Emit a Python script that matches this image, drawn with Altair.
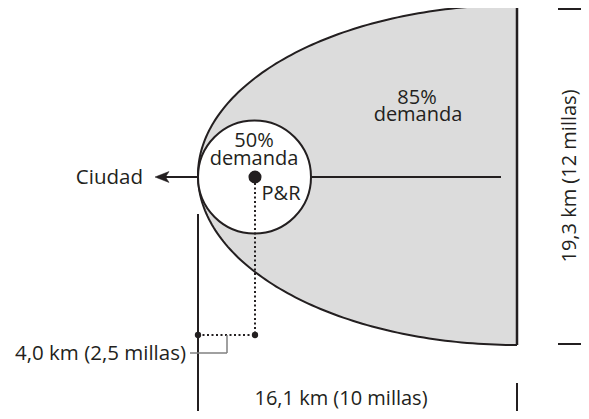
import altair as alt
import pandas as pd
import numpy as np

INK = "#231f20"
GREY_FILL = "#dcdcdc"
FONT = "Open Sans"

# ---- diagram geometry (page pixel units) ----
ellipse_center = [517, 175]
ellipse_axes = [319, 170]
circle_center = [254.5, 177]
circle_diameter = 113
center_dot = [255, 177]
arrow_line = [160, 501, 177]       # x_start, x_end, y
arrow_tip = [162, 177]

# solid segments: x, x2, y, y2
seg_x = [198, 517, 558, 558]
seg_x2 = [198, 517, 589, 589]
seg_y = [214, 383, 9, 344]
seg_y2 = [419, 419, 9, 344]

# dotted segments
dot_x = [255, 198]
dot_x2 = [255, 255]
dot_y = [183, 335]
dot_y2 = [335, 335]
small_dots_x = [198, 255]
small_dots_y = [335, 335]

# grey leader bracket
lead_x = [227, 190]
lead_x2 = [227, 227]
lead_y = [335, 353]
lead_y2 = [353, 353]

# labels
center_labels = ["50%", "demanda", "P&R", "85%", "demanda", "16,1 km (10 millas)"]
center_lx = [254, 254, 281, 417, 418, 341]
center_ly = [147, 165, 200, 104, 121, 405]
right_labels = ["Ciudad", "4,0 km (2,5 millas)"]
right_lx = [143, 186]
right_ly = [184, 360]
rot_label = ["19,3 km (12 millas)"]
rot_lx = [570]
rot_ly = [176]

W, H = 573, 403
xs = alt.Scale(domain=[8, 8 + W], nice=False, zero=False)
ys = alt.Scale(domain=[8, 8 + H], nice=False, zero=False, reverse=True)


def X(f):
    return alt.X(f, scale=xs, axis=None)


def Y(f):
    return alt.Y(f, scale=ys, axis=None)


# ellipse (left half), as a band between upper and lower arcs
t = np.linspace(0, np.pi / 2, 121)
band = pd.DataFrame({
    "x": ellipse_center[0] - ellipse_axes[0] * np.cos(t),
    "y": ellipse_center[1] - ellipse_axes[1] * np.sin(t),
    "y2": ellipse_center[1] + ellipse_axes[1] * np.sin(t),
})
tt = np.linspace(-np.pi / 2, np.pi / 2, 181)
ell = pd.DataFrame({
    "i": np.arange(len(tt)),
    "x": ellipse_center[0] - ellipse_axes[0] * np.cos(tt),
    "y": ellipse_center[1] + ellipse_axes[1] * np.sin(tt),
})

area = alt.Chart(band).mark_area(fill=GREY_FILL, opacity=1).encode(
    x=X("x:Q"), y=Y("y:Q"), y2="y2:Q"
)
outline = alt.Chart(ell).mark_line(stroke=INK, strokeWidth=2).encode(
    x=X("x:Q"), y=Y("y:Q"), order="i:Q"
)
edge = alt.Chart(pd.DataFrame({
    "x": [ellipse_center[0]],
    "y": [ellipse_center[1] - ellipse_axes[1]],
    "y2": [ellipse_center[1] + ellipse_axes[1]],
})).mark_rule(stroke=INK, strokeWidth=2.5).encode(x=X("x:Q"), y=Y("y:Q"), y2="y2:Q")

circle = alt.Chart(pd.DataFrame({"x": [circle_center[0]], "y": [circle_center[1]]})).mark_point(
    shape="circle", filled=True, fill="white", stroke=INK, strokeWidth=2,
    size=circle_diameter ** 2, opacity=1
).encode(x=X("x:Q"), y=Y("y:Q"))

hline = alt.Chart(pd.DataFrame({"x": [arrow_line[0]], "x2": [arrow_line[1]], "y": [arrow_line[2]]})).mark_rule(
    stroke=INK, strokeWidth=2
).encode(x=X("x:Q"), x2="x2:Q", y=Y("y:Q"))

arrow = alt.Chart(pd.DataFrame({"x": [arrow_tip[0]], "y": [arrow_tip[1]]})).mark_point(
    shape="M -1 0 L 1 -0.78 L 0.5 0 L 1 0.78 Z", filled=True, fill=INK, stroke=INK,
    strokeWidth=0.5, size=196, opacity=1
).encode(x=X("x:Q"), y=Y("y:Q"))

cdot = alt.Chart(pd.DataFrame({"x": [center_dot[0]], "y": [center_dot[1]]})).mark_point(
    shape="circle", filled=True, fill=INK, size=170, opacity=1
).encode(x=X("x:Q"), y=Y("y:Q"))

solid = alt.Chart(pd.DataFrame({"x": seg_x, "x2": seg_x2, "y": seg_y, "y2": seg_y2})).mark_rule(
    stroke=INK, strokeWidth=2
).encode(x=X("x:Q"), x2="x2:Q", y=Y("y:Q"), y2="y2:Q")

dotted = alt.Chart(pd.DataFrame({"x": dot_x, "x2": dot_x2, "y": dot_y, "y2": dot_y2})).mark_rule(
    stroke=INK, strokeWidth=2, strokeDash=[2, 2.5]
).encode(x=X("x:Q"), x2="x2:Q", y=Y("y:Q"), y2="y2:Q")

sdots = alt.Chart(pd.DataFrame({"x": small_dots_x, "y": small_dots_y})).mark_point(
    shape="circle", filled=True, fill=INK, size=40, opacity=1
).encode(x=X("x:Q"), y=Y("y:Q"))

leader = alt.Chart(pd.DataFrame({"x": lead_x, "x2": lead_x2, "y": lead_y, "y2": lead_y2})).mark_rule(
    stroke="#808080", strokeWidth=1.5
).encode(x=X("x:Q"), x2="x2:Q", y=Y("y:Q"), y2="y2:Q")

txt_c = alt.Chart(pd.DataFrame({"t": center_labels, "x": center_lx, "y": center_ly})).mark_text(
    font=FONT, fontSize=20, color=INK, align="center", baseline="alphabetic"
).encode(x=X("x:Q"), y=Y("y:Q"), text="t:N")

txt_r = alt.Chart(pd.DataFrame({"t": right_labels, "x": right_lx, "y": right_ly})).mark_text(
    font=FONT, fontSize=20.5, color=INK, align="right", baseline="alphabetic"
).encode(x=X("x:Q"), y=Y("y:Q"), text="t:N")

txt_rot = alt.Chart(pd.DataFrame({"t": rot_label, "x": rot_lx, "y": rot_ly})).mark_text(
    font=FONT, fontSize=20, color=INK, align="center", baseline="middle", angle=270
).encode(x=X("x:Q"), y=Y("y:Q"), text="t:N")

chart = alt.layer(
    area, outline, edge, hline, circle, arrow, cdot,
    solid, dotted, sdots, leader, txt_c, txt_r, txt_rot
).properties(
    width=W, height=H, autosize=alt.AutoSizeParams(type="none"), padding=0
).configure_view(stroke=None)

chart.save("out.html", embed_options={"renderer": "svg", "actions": False})
